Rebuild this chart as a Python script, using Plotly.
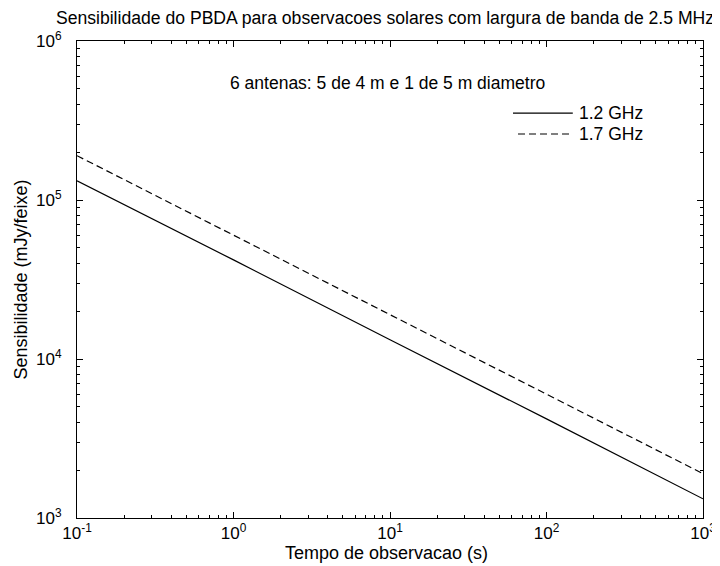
import plotly.graph_objects as go

tempo = [0.1, 1, 10, 100, 1000]
sens_12 = [1.32e5, 4.2e4, 1.32e4, 4.2e3, 1.32e3]
sens_17 = [1.9e5, 6.0e4, 1.9e4, 6.0e3, 1.9e3]
series_names = ["1.2 GHz", "1.7 GHz"]

x_tickvals = [0.1, 1, 10, 100, 1000]
x_ticktext = ["10<sup>-1</sup>", "10<sup>0</sup>", "10<sup>1</sup>", "10<sup>2</sup>", "10<sup>3</sup>"]
y_tickvals = [1e3, 1e4, 1e5, 1e6]
y_ticktext = ["10<sup>3</sup>", "10<sup>4</sup>", "10<sup>5</sup>", "10<sup>6</sup>"]

FONT = "Liberation Sans, Arial, sans-serif"
FS = 17
DASH = "7px,4px"

def minor_vals(decades):
    return [m * d for d in decades for m in range(2, 10)]

fig = go.Figure()
fig.add_trace(go.Scatter(x=tempo, y=sens_12, mode="lines", name=series_names[0],
                         line=dict(color="black", width=1.2, dash="solid")))
fig.add_trace(go.Scatter(x=tempo, y=sens_17, mode="lines", name=series_names[1],
                         line=dict(color="black", width=1.2, dash=DASH)))

axis_common = dict(type="log", showgrid=False, zeroline=False, showline=True,
                   linecolor="black", linewidth=1, mirror="allticks",
                   ticks="inside", ticklen=6, tickcolor="black", automargin=False,
                   tickfont=dict(family=FONT, size=FS, color="black"))

fig.update_xaxes(range=[-1, 3], tickvals=x_tickvals, ticktext=x_ticktext,
                 minor=dict(ticks="inside", ticklen=3, tickcolor="black", showgrid=False,
                            tickmode="array", tickvals=minor_vals([0.1, 1, 10, 100])),
                 **axis_common)
fig.update_yaxes(range=[3, 6], tickvals=y_tickvals, ticktext=y_ticktext,
                 minor=dict(ticks="inside", ticklen=3, tickcolor="black", showgrid=False,
                            tickmode="array", tickvals=minor_vals([1e3, 1e4, 1e5])),
                 ticklabelstandoff=11,
                 **axis_common)

txt = lambda s=FS: dict(family=FONT, size=s, color="black")

# legend drawn as in the reference (long line samples)
leg_rows = [0.849, 0.805]
leg_x0 = [0.6965, 0.7045]
leg_dash = ["solid", DASH]
shapes = []
annotations = []
for i, name in enumerate(series_names):
    shapes.append(dict(type="line", xref="paper", yref="paper", x0=leg_x0[i], x1=0.792,
                       y0=leg_rows[i], y1=leg_rows[i],
                       line=dict(color="black", width=1.2, dash=leg_dash[i])))
    annotations.append(dict(text=name, xref="paper", yref="paper", x=0.799, y=leg_rows[i],
                            xanchor="left", yanchor="middle", showarrow=False, font=txt(17.5)))

annotations += [
    dict(text="6 antenas: 5 de 4 m e 1 de 5 m diametro", xref="paper", yref="paper",
         x=0.496, y=0.912, xanchor="center", yanchor="middle", showarrow=False, font=txt(17.5)),
    dict(text="Tempo de observacao (s)", xref="paper", yref="paper",
         x=0.494, y=-0.073, xanchor="center", yanchor="middle", showarrow=False, font=txt(18)),
    dict(text="Sensibilidade (mJy/feixe)", xref="paper", yref="paper", textangle=-90,
         x=-0.091, y=0.5, xanchor="center", yanchor="middle", showarrow=False, font=txt(18)),
]

# page body adds an 8px offset, so the figure is 712x558 with shifted margins
fig.update_layout(
    width=712, height=558,
    margin=dict(l=69, r=17, t=33, b=48),
    paper_bgcolor="white", plot_bgcolor="white",
    font=txt(),
    title=dict(text="Sensibilidade do PBDA para observacoes solares com largura de banda de 2.5 MHz",
               x=0.5295, xanchor="center", y=1 - 10 / 558, yanchor="middle",
               font=txt(17.6)),
    showlegend=False,
    shapes=shapes,
    annotations=annotations,
)

fig.write_html("out.html")
